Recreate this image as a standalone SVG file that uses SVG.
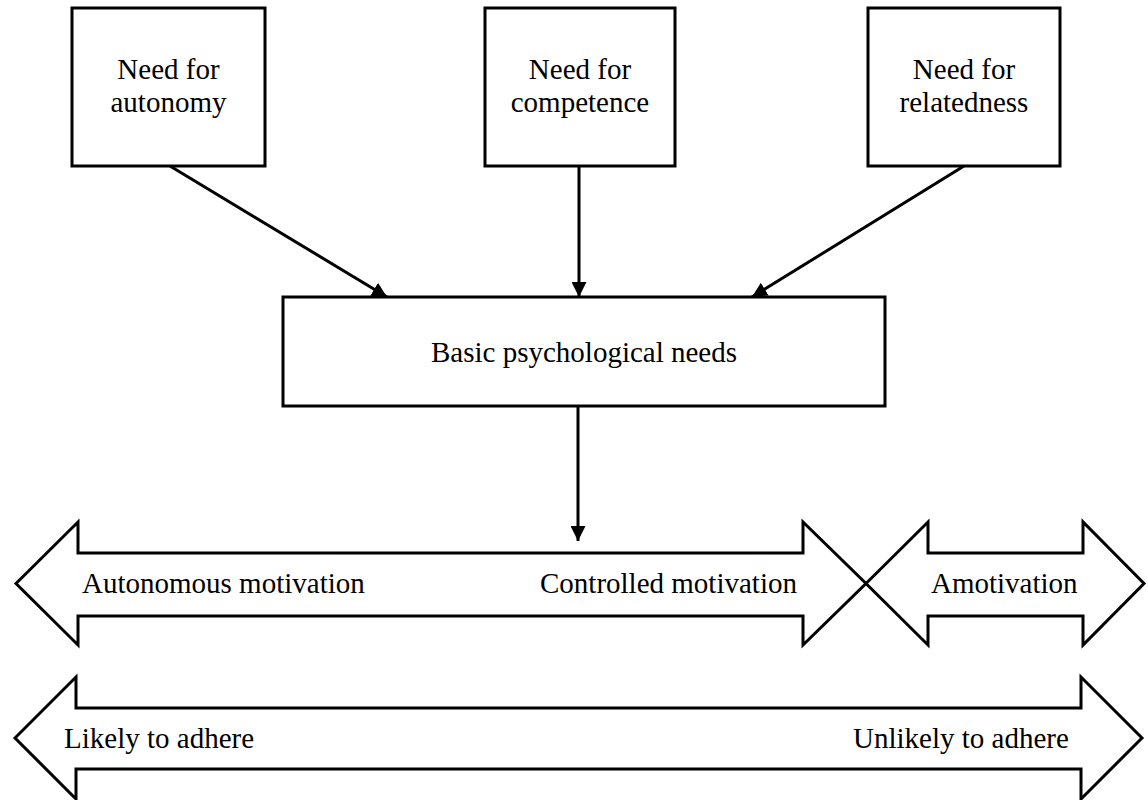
<svg xmlns="http://www.w3.org/2000/svg" width="1148" height="800" viewBox="0 0 1148 800">
<style>
.box{fill:#fff;stroke:#000;stroke-width:3}
.big{fill:#fff;stroke:#000;stroke-width:3;stroke-linejoin:miter}
.lbl{font-family:"Liberation Serif","Times New Roman",serif;font-size:29px;fill:#000}
.mid{text-anchor:middle}
.con{stroke:#000;stroke-width:3;fill:none}
</style>
<defs>
<marker id="ah" viewBox="0 0 10 10" refX="10" refY="5" markerWidth="5" markerHeight="5" markerUnits="strokeWidth" orient="auto">
<path d="M0,0 L10,5 L0,10 z" fill="#000"/>
</marker>
</defs>
<rect width="1148" height="800" fill="#fff"/>
<g id="autonomy">
<rect class="box" x="72" y="8" width="193" height="158"/>
<text class="lbl mid" x="168.5" y="79">Need for</text>
<text class="lbl mid" x="168.5" y="112">autonomy</text>
</g>
<g id="competence">
<rect class="box" x="485" y="8" width="190" height="158"/>
<text class="lbl mid" x="580" y="79">Need for</text>
<text class="lbl mid" x="580" y="112">competence</text>
</g>
<g id="relatedness">
<rect class="box" x="868" y="8" width="192" height="158"/>
<text class="lbl mid" x="964" y="79">Need for</text>
<text class="lbl mid" x="964" y="112">relatedness</text>
</g>
<g id="basic">
<rect class="box" x="283" y="297" width="602" height="109"/>
<text class="lbl mid" x="584" y="362">Basic psychological needs</text>
</g>
<g id="motivation">
<polygon class="big" points="16,583.5 78,522 78,553 803,553 803,522 866,583.5 803,645 803,616 78,616 78,645"/>
<text class="lbl" x="82" y="593">Autonomous motivation</text>
<text class="lbl" x="540" y="593">Controlled motivation</text>
</g>
<g id="amotivation">
<polygon class="big" points="866,583.5 928,522 928,553 1083,553 1083,522 1144,583.5 1083,645 1083,616 928,616 928,645"/>
<text class="lbl" x="931" y="593">Amotivation</text>
</g>
<g id="adherence">
<polygon class="big" points="15,738 76,677 76,708 1081,708 1081,677 1142,738 1081,799 1081,769 76,769 76,799"/>
<text class="lbl" x="64" y="748">Likely to adhere</text>
<text class="lbl" x="853" y="748">Unlikely to adhere</text>
</g>
<g id="connectors">
<line class="con" x1="170" y1="166" x2="387" y2="297" marker-end="url(#ah)"/>
<line class="con" x1="579" y1="166" x2="579" y2="297" marker-end="url(#ah)"/>
<line class="con" x1="964" y1="166" x2="752" y2="297" marker-end="url(#ah)"/>
<line class="con" x1="578" y1="406" x2="578" y2="541" marker-end="url(#ah)"/>
</g>
</svg>
